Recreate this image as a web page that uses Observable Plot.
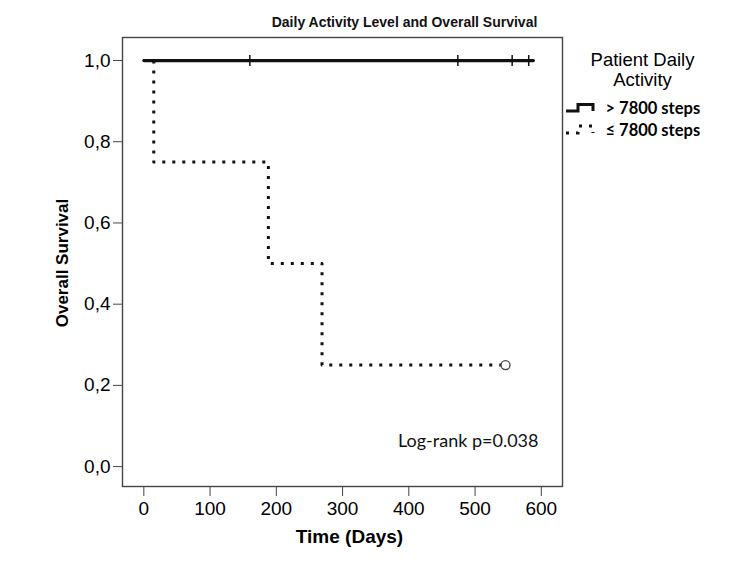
<!DOCTYPE html>
<html>
<head>
<meta charset="utf-8">
<script src="https://cdn.jsdelivr.net/npm/d3@7"></script>
<script src="https://cdn.jsdelivr.net/npm/@observablehq/plot@0.6"></script>
<style>
  html, body { margin: 0; padding: 0; background: #fff; }
  #chart svg { display: block; }
  #chart svg g[aria-label="x-axis tick label"],
  #chart svg g[aria-label="y-axis tick label"] { font-size: 19px; }
</style>
</head>
<body>
<div id="chart"></div>
<script>
// ---- data ----
const title = "Daily Activity Level and Overall Survival";
const groups = ["> 7800 steps", "≤ 7800 steps"];
const legendTitle = ["Patient Daily", "Activity"];
const xLabel = "Time (Days)";
const yLabel = "Overall Survival";
const annotation = "Log-rank p=0.038";

const xTicks = [0, 100, 200, 300, 400, 500, 600];
const yTicks = [0, 0.2, 0.4, 0.6, 0.8, 1.0];

// > 7800 steps
const highTimes = [0, 588];
const highSurv = [1, 1];
const highCensorTimes = [160, 474, 556, 581];
const highCensorSurv = [1, 1, 1, 1];

// ≤ 7800 steps
const lowTimes = [0, 15, 188, 269, 546];
const lowSurv = [1, 0.75, 0.5, 0.25, 0.25];
const lowCensorTimes = [546];
const lowCensorSurv = [0.25];

const highData = highTimes.map((t, i) => ({t, s: highSurv[i]}));
const lowData = lowTimes.map((t, i) => ({t, s: lowSurv[i]}));
const highCensor = highCensorTimes.map((t, i) => ({t, s: highCensorSurv[i]}));
const lowCensor = lowCensorTimes.map((t, i) => ({t, s: lowCensorSurv[i]}));

const vTick = {
  draw(ctx, size) {
    const r = Math.sqrt(size / Math.PI);
    ctx.moveTo(0, -r);
    ctx.lineTo(0, r);
  }
};

const arial = "'Liberation Sans', Arial, sans-serif";
const calibri = "Lato, 'Open Sans', sans-serif";

const chart = Plot.plot({
  width: 750,
  height: 563,
  marginLeft: 122,
  marginRight: 188,
  marginTop: 37,
  marginBottom: 77,
  style: {background: "#fff", color: "#000", fontFamily: arial, fontSize: "18px"},
  x: {domain: [-32.2, 632]},
  y: {domain: [-0.049, 1.0567]},
  marks: [
    Plot.frame({stroke: "#444", strokeWidth: 1.4}),
    Plot.axisX({ticks: xTicks, tickSize: 10, tickPadding: 5, fontSize: 19, label: null, stroke: "#444"}),
    Plot.axisY({ticks: yTicks, tickSize: 9, tickPadding: 3, fontSize: 19, label: null, stroke: "#444",
      tickFormat: d => d.toFixed(1).replace(".", ",")}),
    Plot.line(lowData, {x: "t", y: "s", curve: "step-after", stroke: "#111", strokeWidth: 3, strokeDasharray: "3,7", strokeLinecap: "butt"}),
    Plot.line(highData, {x: "t", y: "s", curve: "step-after", stroke: "#111", strokeWidth: 3.2}),
    Plot.dot(highCensor, {x: "t", y: "s", symbol: vTick, r: 5.5, stroke: "#111", strokeWidth: 1.5, fill: "none"}),
    Plot.dot(lowCensor, {x: "t", y: "s", r: 4.5, stroke: "#444", strokeWidth: 1.3, fill: "#fff"}),
    Plot.text([title], {frameAnchor: "top", lineAnchor: "middle", textAnchor: "middle", dx: 62, dy: -15, fontWeight: "bold", fontSize: 14, fill: "#111"}),
    Plot.text([xLabel], {frameAnchor: "bottom", lineAnchor: "middle", textAnchor: "middle", dx: 7, dy: 50, fontWeight: "bold", fontSize: 19}),
    Plot.text([yLabel], {frameAnchor: "left", lineAnchor: "middle", textAnchor: "middle", rotate: -90, dx: -60, dy: 1, fontWeight: "bold", fontSize: 17}),
    Plot.text([annotation], {frameAnchor: "bottom-right", lineAnchor: "middle", textAnchor: "end", dx: -24, dy: -45, fontSize: 18, fontFamily: calibri, fill: "#111"}),
    Plot.text([legendTitle[0]], {frameAnchor: "top-right", lineAnchor: "middle", textAnchor: "middle", dx: 80, dy: 23, fontSize: 18.5}),
    Plot.text([legendTitle[1]], {frameAnchor: "top-right", lineAnchor: "middle", textAnchor: "middle", dx: 80, dy: 43, fontSize: 18.5}),
    Plot.text([groups[0]], {frameAnchor: "top-right", lineAnchor: "middle", textAnchor: "start", dx: 43, dy: 71, fontSize: 16.5, fontWeight: "bold", fontFamily: calibri}),
    Plot.text([groups[1]], {frameAnchor: "top-right", lineAnchor: "middle", textAnchor: "start", dx: 43, dy: 93, fontSize: 16.5, fontWeight: "bold", fontFamily: calibri})
  ]
});

// legend swatches (small step glyphs)
const svg = d3.select(chart);
const g = svg.append("g").attr("fill", "none").attr("stroke", "#111");
g.append("path").attr("d", "M566,111H578V104.5H593V111").attr("stroke-width", 3);
g.append("path").attr("d", "M566,133H578V126H593V133").attr("stroke-width", 3).attr("stroke-dasharray", "3,7");

document.getElementById("chart").appendChild(chart);
</script>
</body>
</html>
